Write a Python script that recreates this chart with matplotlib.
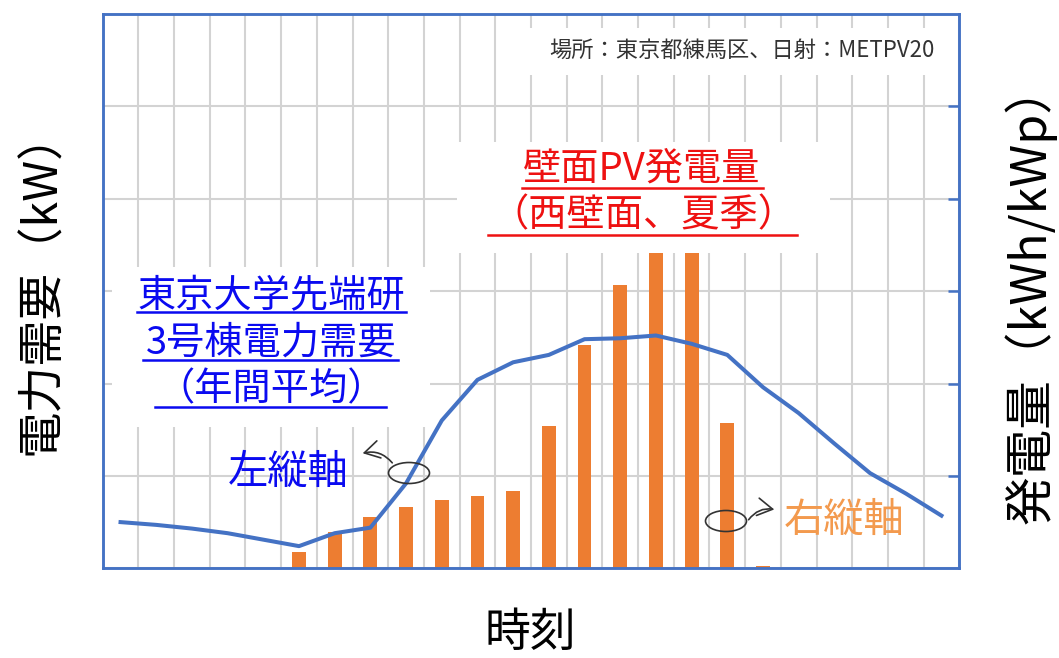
import numpy as np
import matplotlib
matplotlib.use("Agg")
import matplotlib.pyplot as plt
from matplotlib.patches import Rectangle, Ellipse, FancyArrowPatch
from matplotlib.lines import Line2D

plt.rcParams['font.family'] = ['Noto Sans CJK JP', 'DejaVu Sans']

# 時刻 (0時〜23時, 各時間帯の中央に描画)
hours = np.arange(24)
# 東京大学先端研 3号棟 電力需要 (年間平均), 左縦軸 (目盛なしの相対値)
demand = [0.50, 0.47, 0.43, 0.38, 0.31, 0.24, 0.38, 0.44, 0.92, 1.60, 2.04, 2.23,
          2.31, 2.48, 2.49, 2.52, 2.43, 2.31, 1.96, 1.68, 1.35, 1.03, 0.81, 0.57]
# 壁面PV発電量 (西壁面、夏季), 右縦軸
pv = [0, 0, 0, 0, 0, 0.18, 0.39, 0.56, 0.66, 0.74, 0.78, 0.84,
      1.54, 2.42, 3.07, 3.41, 3.41, 1.57, 0.03, 0, 0, 0, 0, 0]

W, H = 1059, 658
BLUE_LINE = '#4472C4'
ORANGE = '#ED7D31'


def fx(x):
    return x / W


def fy(y):
    return 1 - y / H


fig = plt.figure(figsize=(W / 100, H / 100), dpi=100)
ax2 = fig.add_axes([fx(102.7), fy(568.3), (959.3 - 102.7) / W, (568.3 - 14) / H])
ax = ax2.twinx()
ax.set_zorder(ax2.get_zorder() + 1)
ax.patch.set_visible(False)

# 発電量の棒
ax2.bar(hours + 0.5, pv, width=0.39, color=ORANGE, zorder=2)
# 電力需要の線
ax.plot(hours + 0.5, demand, color=BLUE_LINE, lw=2.9, solid_joinstyle='round')

for a in (ax, ax2):
    a.set_xlim(0, 24)
    a.set_ylim(0, 6)
    for s in a.spines.values():
        s.set_color(BLUE_LINE)
        s.set_linewidth(1.8)

ax2.set_xticks(range(25))
ax2.set_yticks(range(7))
ax2.set_axisbelow(True)
ax2.grid(True, color='#d3d3d3', lw=1.5)
ax2.tick_params(left=False, bottom=False, labelleft=False, labelbottom=False)
ax.set_yticks(range(1, 6))
ax.tick_params(axis='y', direction='in', length=8, width=1.8, color=BLUE_LINE,
               labelright=False)

# 白い背景の注記ボックス（グリッドを隠す）
for (x0, y0, x1, y1) in [(510, 28, 945, 75), (457, 142, 830, 253), (112, 267, 430, 427)]:
    ax2.add_patch(Rectangle((fx(x0), fy(y1)), (x1 - x0) / W, (y1 - y0) / H,
                            transform=fig.transFigure, facecolor='white',
                            edgecolor='none', zorder=1))

# 軸ラベル
fig.text(fx(42), fy(282), '電力需要（kW）', rotation=90, fontsize=33.5,
         ha='center', va='center')
fig.text(fx(1030), fy(293), '発電量（kWh/kWp）', rotation=90, fontsize=35,
         ha='center', va='center')
fig.text(fx(530), fy(633), '時刻', fontsize=33, ha='center', va='center')

# 注記
fig.text(fx(935), fy(50), '場所：東京都練馬区、日射：METPV20', fontsize=16,
         color='#333333', ha='right', va='center')

red = '#EE1111'
fig.text(fx(642), fy(169), '壁面PV発電量', fontsize=27.5, color=red,
         ha='center', va='center')
fig.text(fx(643), fy(216), '（西壁面、夏季）', fontsize=27.5, color=red,
         ha='center', va='center')
for (x0, x1, y) in [(522, 763, 188), (488, 797, 235)]:
    fig.add_artist(Line2D([fx(x0), fx(x1)], [fy(y), fy(y)], color=red, lw=1.8))

blue = '#0A0AF0'
for txt, y in [('東京大学先端研', 297), ('3号棟電力需要', 343), ('（年間平均）', 390)]:
    fig.text(fx(271), fy(y), txt, fontsize=27.5, color=blue, ha='center', va='center')
for (x0, x1, y) in [(137, 406, 312), (143, 398, 360), (155, 386, 407)]:
    fig.add_artist(Line2D([fx(x0), fx(x1)], [fy(y), fy(y)], color=blue, lw=1.8))

fig.text(fx(288), fy(472), '左縦軸', fontsize=29, color=blue, ha='center', va='center')
fig.text(fx(844), fy(520), '右縦軸', fontsize=29, color='#F39A4E', ha='center', va='center')

# 手書き風の丸と矢印
for (cx, cy) in [(409, 473), (726, 521)]:
    fig.add_artist(Ellipse((fx(cx), fy(cy)), 41 / W, 21 / H, transform=fig.transFigure,
                           fill=False, edgecolor='#333333', lw=1.2, zorder=5))
fig.add_artist(FancyArrowPatch((fx(394), fy(465)), (fx(360), fy(454)),
                               transform=fig.transFigure, connectionstyle='arc3,rad=0.35',
                               arrowstyle='->,head_length=0.6,head_width=0.35',
                               mutation_scale=18, color='#333333', lw=1.2, zorder=5))
fig.add_artist(FancyArrowPatch((fx(747), fy(522)), (fx(777), fy(510)),
                               transform=fig.transFigure, connectionstyle='arc3,rad=-0.35',
                               arrowstyle='->,head_length=0.6,head_width=0.35',
                               mutation_scale=18, color='#333333', lw=1.2, zorder=5))

fig.savefig('out.png', dpi=100)
